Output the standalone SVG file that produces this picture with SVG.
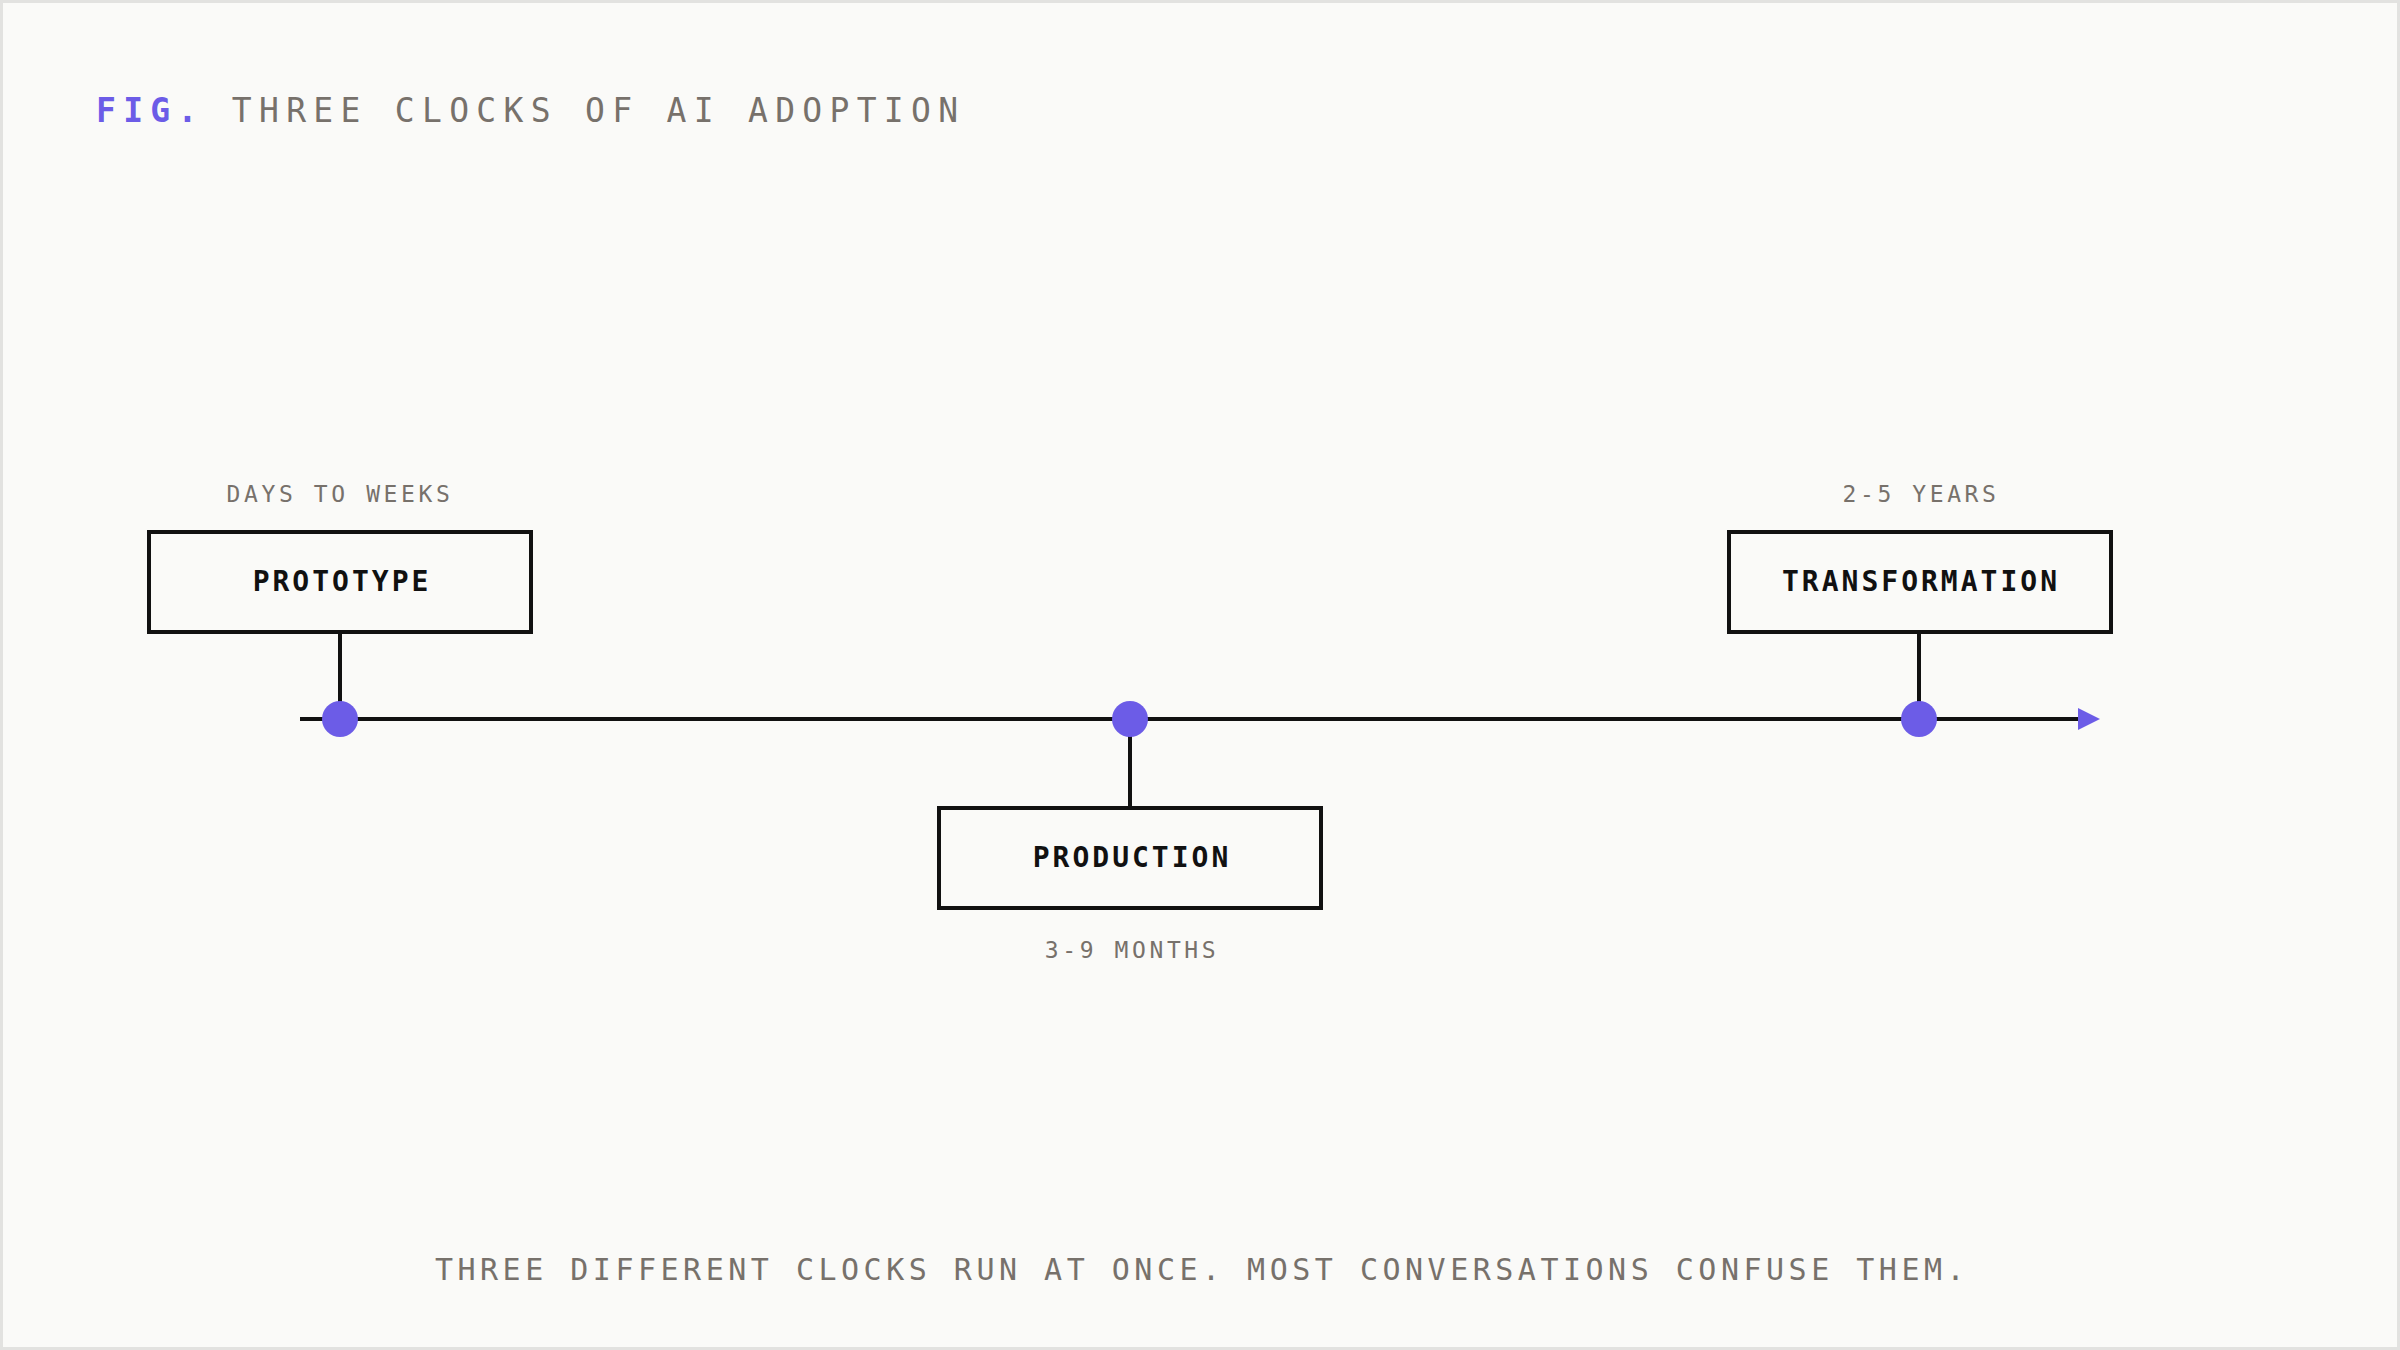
<svg xmlns="http://www.w3.org/2000/svg" width="2400" height="1350" viewBox="0 0 2400 1350">
<defs>
<style>
text{font-family:"DejaVu Sans Mono","Liberation Mono",monospace}
.t{font-size:33px;letter-spacing:7.3px;fill:#77716b}
.f{font-size:30px;letter-spacing:4.5px;fill:#77716b;text-anchor:middle}
.n{font-size:28px;font-weight:bold;letter-spacing:3px;fill:#111;text-anchor:middle}
.s{font-size:23px;letter-spacing:3.6px;fill:#77716b;text-anchor:middle}
.box{fill:#fafaf8;stroke:#111;stroke-width:4}
.ln{stroke:#111;stroke-width:4}
.dot{fill:#6c5ce7}
</style>
</defs>
<rect x="1.5" y="1.5" width="2397" height="1347" fill="#fafaf8" stroke="#e2e2e0" stroke-width="3"/>
<text x="96" y="122" class="t"><tspan fill="#6c5ce7" font-weight="bold">FIG.</tspan> THREE CLOCKS OF AI ADOPTION</text>
<g id="connectors">
<line x1="300" y1="719" x2="2080" y2="719" class="ln"/>
<polygon points="2078,708 2100,719 2078,730" fill="#6c5ce7"/>
<line x1="340" y1="632" x2="340" y2="719" class="ln"/>
<line x1="1130" y1="719" x2="1130" y2="807" class="ln"/>
<line x1="1919" y1="632" x2="1919" y2="719" class="ln"/>
<circle cx="340" cy="719" r="18" class="dot"/>
<circle cx="1130" cy="719" r="18" class="dot"/>
<circle cx="1919" cy="719" r="18" class="dot"/>
</g>
<g id="prototype">
<text x="340" y="502" class="s">DAYS TO WEEKS</text>
<rect x="149" y="532" width="382" height="100" class="box"/>
<text x="342" y="591" class="n">PROTOTYPE</text>
</g>
<g id="production">
<rect x="939" y="808" width="382" height="100" class="box"/>
<text x="1132" y="867" class="n">PRODUCTION</text>
<text x="1132" y="958" class="s">3-9 MONTHS</text>
</g>
<g id="transformation">
<text x="1921" y="502" class="s">2-5 YEARS</text>
<rect x="1729" y="532" width="382" height="100" class="box"/>
<text x="1921" y="591" class="n">TRANSFORMATION</text>
</g>
<text x="1202" y="1280" class="f">THREE DIFFERENT CLOCKS RUN AT ONCE. MOST CONVERSATIONS CONFUSE THEM.</text>
</svg>
